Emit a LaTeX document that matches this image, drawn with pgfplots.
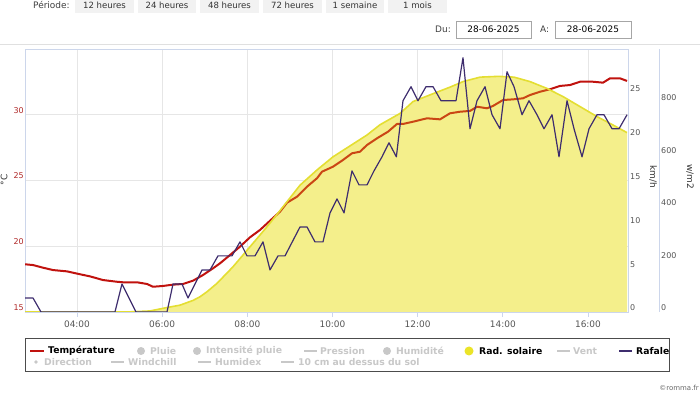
\documentclass[border=0pt]{standalone}
\usepackage{pgfplots}
\pgfplotsset{compat=1.18}
\usepackage{fontspec}
\setmainfont{DejaVu Sans}
\definecolor{tempred}{RGB}{192,18,14}
\definecolor{templab}{RGB}{175,40,40}
\definecolor{windcol}{RGB}{62,45,110}
\definecolor{solarbase}{RGB}{248,244,173}
\definecolor{solarfill}{RGB}{235,228,40}
\definecolor{solarline}{RGB}{228,222,50}
\definecolor{gridcol}{RGB}{230,230,230}
\definecolor{axiscol}{RGB}{204,214,235}
\definecolor{labgray}{RGB}{85,85,85}
\definecolor{hidgray}{RGB}{200,200,200}
\definecolor{btngray}{RGB}{242,242,242}
\newcommand{\fsz}[1]{\fontsize{#1}{#1}\selectfont}

\pgfplotstableread{
h T
2.779 18.63
2.967 18.57
3.202 18.37
3.436 18.19
3.765 18.09
4.070 17.87
4.305 17.71
4.611 17.43
4.939 17.30
5.080 17.26
5.409 17.26
5.644 17.13
5.785 16.92
6.020 16.98
6.255 17.08
6.489 17.13
6.724 17.38
6.959 17.81
7.194 18.32
7.358 18.70
7.593 19.33
7.828 19.97
8.063 20.68
8.298 21.24
8.533 21.94
8.768 22.63
8.932 23.31
9.167 23.77
9.402 24.53
9.636 25.17
9.754 25.67
10.012 26.05
10.247 26.56
10.458 27.07
10.646 27.19
10.811 27.70
11.046 28.21
11.304 28.71
11.515 29.30
11.656 29.30
11.891 29.47
12.220 29.73
12.525 29.65
12.760 30.11
12.995 30.23
13.230 30.29
13.394 30.61
13.629 30.49
13.770 30.67
14.005 31.12
14.240 31.17
14.474 31.25
14.639 31.50
14.874 31.75
15.109 31.94
15.343 32.19
15.578 32.26
15.813 32.51
16.118 32.51
16.353 32.44
16.518 32.77
16.752 32.77
16.917 32.57
}\temptable

\pgfplotstableread{
h W
2.779 1.6
2.967 1.6
3.155 0
4.892 0
5.057 3.2
5.386 0
6.114 0
6.255 3.2
6.466 3.2
6.607 1.6
6.936 4.8
7.124 4.8
7.311 6.4
7.640 6.4
7.828 8.0
7.993 6.4
8.180 6.4
8.368 8.0
8.533 4.8
8.721 6.4
8.885 6.4
9.237 9.7
9.402 9.7
9.589 8.0
9.777 8.0
9.942 11.3
10.106 12.9
10.271 11.3
10.458 16.1
10.623 14.5
10.811 14.5
10.975 16.1
11.163 17.7
11.327 19.3
11.500 17.7
11.656 24.1
11.844 25.7
12.008 24.1
12.196 25.7
12.361 25.7
12.549 24.1
12.901 24.1
13.065 29.0
13.230 20.9
13.394 24.1
13.582 25.7
13.747 22.5
13.934 20.9
14.099 27.4
14.263 25.7
14.451 22.5
14.615 24.1
14.803 22.5
14.968 20.9
15.156 22.5
15.320 17.7
15.508 24.1
15.672 20.9
15.860 17.7
16.024 20.9
16.212 22.5
16.376 22.5
16.565 20.9
16.729 20.9
16.917 22.5
}\windtable

\pgfplotstableread{
h S
2.779 0
5.174 0
5.714 4
6.114 17
6.419 26
6.724 44
6.889 58
7.053 77
7.288 109
7.664 172
8.063 248
8.462 324
8.838 400
9.237 482
9.636 540
10.012 590
10.811 673
11.116 712
11.586 755
11.891 800
12.361 830
12.760 855
13.065 876
13.465 893
13.900 896
14.263 893
14.639 876
15.038 850
15.414 819
15.813 781
16.212 743
16.588 711
16.917 682
}\solartable

\pgfplotsset{
  overlay axis/.style={
    at={(25bp,81bp)}, anchor=south west, scale only axis,
    width=603bp, height=263bp, xmin=2.779, xmax=16.94,
  },
}

\begin{document}
\begin{tikzpicture}
\path[use as bounding box] (0,0) rectangle (700bp,393bp);

% Frame, grid and temperature scale
\begin{axis}[
  overlay axis, ymin=15, ymax=35,
  xtick={4,6,8,10,12,14,16},
  xticklabels={04:00,06:00,08:00,10:00,12:00,14:00,16:00},
  ytick={15,20,25,30},
  xtick pos=bottom, ytick pos=left,
  tick align=inside,
  major tick length=5bp,
  ytick style={draw=none},
  xtick style={axiscol, line width=0.8bp, yshift=-5bp},
  grid=major,
  major grid style={gridcol, line width=0.8bp},
  axis line style={axiscol, line width=0.8bp},
  x tick label style={font=\fsz{9}, text=labgray, inner sep=0pt, yshift=-8.5bp},
  y tick label style={font=\fsz{8}, text=templab, inner sep=0pt, xshift=-1bp, yshift=4.5bp},
  /pgf/number format/assume math mode=true,
]
\end{axis}

% Solar radiation: opaque base of the area
\begin{axis}[overlay axis, ymin=0, ymax=1000, hide axis]
\addplot[fill=solarbase, draw=none] table[x=h, y=S] {\solartable} \closedcycle;
\end{axis}

% Temperature
\begin{axis}[overlay axis, ymin=15, ymax=35, hide axis]
\addplot[tempred, line width=2bp, line join=round] table[x=h, y=T] {\temptable};
\end{axis}

% Solar radiation: translucent overlay and edge line
\begin{axis}[overlay axis, ymin=0, ymax=1000, hide axis]
\addplot[fill=solarfill, fill opacity=0.25, draw=none] table[x=h, y=S] {\solartable} \closedcycle;
\addplot[solarline, line width=1.6bp, line join=round] table[x=h, y=S] {\solartable};
\end{axis}

% Wind gust axis
\begin{axis}[
  overlay axis, ymin=0, ymax=30,
  axis x line=none, axis y line*=right,
  ytick={0,5,10,15,20,25},
  ytick style={draw=none},
  y axis line style={axiscol, line width=0.8bp},
  y tick label style={font=\fsz{8}, text=labgray, anchor=west, inner sep=0pt, xshift=2bp, yshift=4bp},
  /pgf/number format/assume math mode=true,
]
\addplot[windcol, line width=1.2bp, line join=round] table[x=h, y=W] {\windtable};
\end{axis}

% Solar scale axis
\begin{axis}[
  at={(658bp,81bp)}, anchor=south west, scale only axis,
  width=1bp, height=263bp,
  xmin=0, xmax=1, ymin=0, ymax=1000,
  axis x line=none, axis y line*=right,
  ytick={0,200,400,600,800},
  ytick style={draw=none},
  y axis line style={axiscol, line width=0.8bp},
  y tick label style={font=\fsz{8}, text=labgray, anchor=west, inner sep=0pt, xshift=2bp, yshift=4bp},
  /pgf/number format/assume math mode=true,
]
\end{axis}

\begin{scope}[x=1bp, y=1bp]
% axis titles
\node[rotate=90, font=\fsz{9}, text=black!80] at (4,213) {°C};
\node[rotate=-90, font=\fsz{9}, text=black!80] at (653,216) {km/h};
\node[rotate=-90, font=\fsz{9}, text=black!80] at (690,216) {w/m2};

% top controls
\node[anchor=west, font=\fsz{9}, text=black!75, inner sep=0pt] at (33,388) {Période:};
\foreach \a/\b/\t in {75/134/12 heures, 138/196/24 heures, 200/259/48 heures, 263/322/72 heures, 326/384/1 semaine, 388/447/1 mois}{
  \fill[btngray] (\a,380) rectangle (\b,393);
  \node[font=\fsz{8.6}, text=black!80] at ({(\a+\b)/2},388) {\t};
}
\node[anchor=east, font=\fsz{9}, text=black!75, inner sep=0pt] at (451,363.5) {Du:};
\draw[black!35, fill=white] (456,355) rectangle (531,372);
\node[font=\fsz{9}] at (493.5,363.5) {28-06-2025};
\node[anchor=west, font=\fsz{9}, text=black!75, inner sep=0pt] at (540,363.5) {A:};
\draw[black!35, fill=white] (555,355) rectangle (631,372);
\node[font=\fsz{9}] at (593,363.5) {28-06-2025};
\draw[black!12] (0,349) -- (700,349);

% legend
\draw[black!70, line width=1bp, fill=white] (25,21) rectangle (669,54);
\begin{scope}[every node/.style={anchor=west, inner sep=0pt, font=\bfseries\fsz{9.3}}]
\draw[tempred, line width=2bp] (30,42) -- (44,42);
\node at (48,42) {Température};
\fill[hidgray] (141,42) circle (4);
\node[text=hidgray] at (150,42) {Pluie};
\fill[hidgray] (197,42) circle (4);
\node[text=hidgray] at (206,42) {Intensité pluie};
\draw[hidgray, line width=1.5bp] (304,42) -- (317,42);
\node[text=hidgray] at (320,42) {Pression};
\fill[hidgray] (387,42) circle (4);
\node[text=hidgray] at (396,42) {Humidité};
\fill[solarfill] (469,42) circle (4.5);
\node at (479,42) {Rad. solaire};
\draw[hidgray, line width=1.5bp] (557,42) -- (570,42);
\node[text=hidgray] at (573,42) {Vent};
\draw[windcol, line width=2bp] (619,42) -- (632,42);
\node at (636,42) {Rafale};
\fill[hidgray] (36,31) circle (1.8);
\node[text=hidgray] at (44,31) {Direction};
\draw[hidgray, line width=1.5bp] (111,31) -- (124,31);
\node[text=hidgray] at (128,31) {Windchill};
\draw[hidgray, line width=1.5bp] (198,31) -- (211,31);
\node[text=hidgray] at (215,31) {Humidex};
\draw[hidgray, line width=1.5bp] (281,31) -- (294,31);
\node[text=hidgray] at (298,31) {10 cm au dessus du sol};
\end{scope}

\node[anchor=east, font=\fsz{7}, text=black!60, inner sep=0pt] at (699,5) {©romma.fr};
\end{scope}
\end{tikzpicture}
\end{document}
